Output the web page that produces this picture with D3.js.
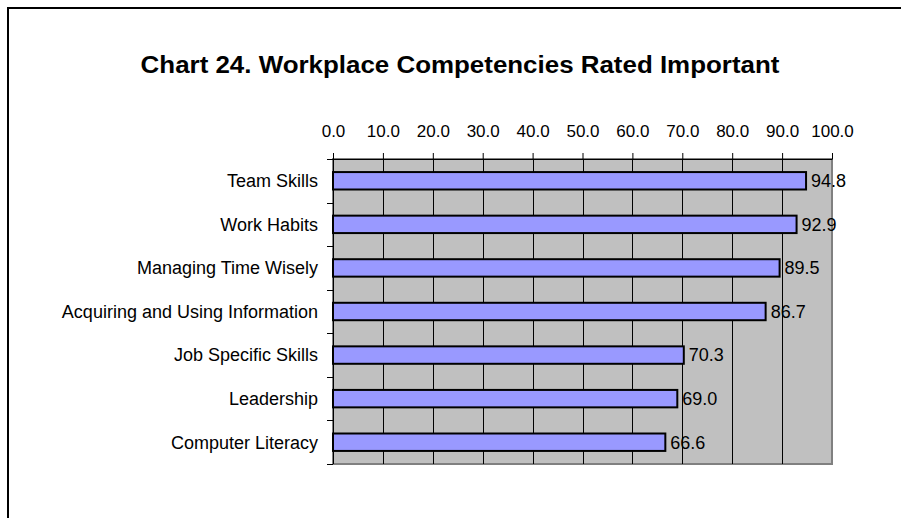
<!DOCTYPE html>
<html>
<head>
<meta charset="utf-8">
<script src="https://cdnjs.cloudflare.com/ajax/libs/d3/7.8.5/d3.min.js"></script>
<style>
  body { margin: 0; background: #fff; }
  text { font-family: "Liberation Sans", Arial, sans-serif; fill: #000; }
</style>
</head>
<body>
<div id="chart"></div>
<script>
// chart data
var categories = ["Team Skills", "Work Habits", "Managing Time Wisely",
  "Acquiring and Using Information", "Job Specific Skills", "Leadership", "Computer Literacy"];
var values = [94.8, 92.9, 89.5, 86.7, 70.3, 69.0, 66.6];
var tickValues = [0, 10, 20, 30, 40, 50, 60, 70, 80, 90, 100];
var title = "Chart 24. Workplace Competencies Rated Important";

var W = 901, H = 518;
var margin = {top: 159, right: 69, bottom: 54, left: 333};
var width = W - margin.left - margin.right,
    height = H - margin.top - margin.bottom;

var svg = d3.select("#chart")
  .append("svg")
  .attr("width", W)
  .attr("height", H);

// outer chart border (left/top only visible)
svg.append("rect")
  .attr("x", 8).attr("y", 8)
  .attr("width", W + 20).attr("height", H + 20)
  .attr("fill", "none")
  .attr("stroke", "#000")
  .attr("stroke-width", 2);

// title, stretched a little to match the wider original rendering
svg.append("text")
  .attr("transform", "translate(460,73) scale(1.08,1)")
  .attr("text-anchor", "middle")
  .style("font-size", "24px")
  .style("font-weight", "bold")
  .text(title);

var g = svg.append("g")
  .attr("transform", "translate(" + margin.left + "," + margin.top + ")");

var x = d3.scaleLinear().domain([0, 100]).range([0, width]);
var y = d3.scaleBand().domain(categories).range([0, height]).paddingInner(0.6).paddingOuter(0.3);

// plot area
g.append("rect")
  .attr("width", width).attr("height", height)
  .attr("fill", "#c0c0c0")
  .attr("stroke", "#808080")
  .attr("stroke-width", 2);

// vertical gridlines
g.append("g")
  .selectAll("line")
  .data(tickValues.slice(1, -1))
  .enter()
  .append("line")
  .attr("x1", function(d){ return Math.round(x(d)) + 0.5; })
  .attr("x2", function(d){ return Math.round(x(d)) + 0.5; })
  .attr("y1", 0).attr("y2", height)
  .attr("stroke", "#000");

// top axis
var xAxis = g.append("g")
  .call(d3.axisTop(x).tickValues(tickValues).tickFormat(d3.format(".1f")).tickSizeInner(6).tickSizeOuter(0).tickPadding(16));
xAxis.selectAll("text").style("font-size", "17px").attr("font-family", null);
xAxis.selectAll("path, line").attr("stroke", "#000");

// left axis with ticks at band boundaries
g.append("line")
  .attr("x1", 0.5).attr("x2", 0.5).attr("y1", 0).attr("y2", height)
  .attr("stroke", "#000");
var step = height / categories.length;
g.append("g")
  .selectAll("line")
  .data(d3.range(categories.length + 1))
  .enter()
  .append("line")
  .attr("x1", -6).attr("x2", 0)
  .attr("y1", function(i){ return Math.round(i * step) + 0.5; })
  .attr("y2", function(i){ return Math.round(i * step) + 0.5; })
  .attr("stroke", "#000");

g.append("g")
  .selectAll("text")
  .data(categories)
  .enter()
  .append("text")
  .attr("x", -15)
  .attr("y", function(d){ return y(d) + y.bandwidth() / 2; })
  .attr("dy", "0.35em")
  .attr("text-anchor", "end")
  .style("font-size", "18px")
  .text(function(d){ return d; });

// bars
g.append("g")
  .selectAll("rect")
  .data(values)
  .enter()
  .append("rect")
  .attr("x", 0)
  .attr("y", function(d, i){ return y(categories[i]); })
  .attr("width", function(d){ return x(d); })
  .attr("height", y.bandwidth())
  .attr("fill", "#9999ff")
  .attr("stroke", "#000")
  .attr("stroke-width", 2);

// value labels
g.append("g")
  .selectAll("text")
  .data(values)
  .enter()
  .append("text")
  .attr("x", function(d){ return x(d) + 5; })
  .attr("y", function(d, i){ return y(categories[i]) + y.bandwidth() / 2; })
  .attr("dy", "0.35em")
  .style("font-size", "18px")
  .text(function(d){ return d.toFixed(1); });
</script>
</body>
</html>
